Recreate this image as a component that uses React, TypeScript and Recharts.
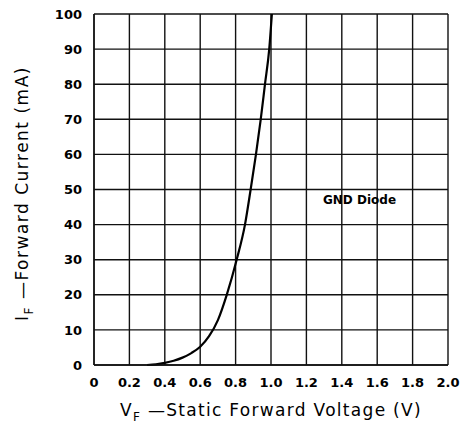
import React from "react"
import {
  LineChart,
  Line,
  XAxis,
  YAxis,
  CartesianGrid,
  ReferenceDot
} from "recharts"

// forward voltage (V) vs forward current (mA)
const voltage = [0.3, 0.35, 0.4, 0.45, 0.5, 0.55, 0.6, 0.65, 0.7, 0.75, 0.806, 0.853, 0.885, 0.915, 0.942, 0.966, 0.99, 1.005]
const current = [0, 0.2, 0.6, 1.2, 2.1, 3.4, 5.2, 8.2, 12.8, 20, 30, 40, 50, 60, 70, 80, 90, 100]

const xTicks = [0, 0.2, 0.4, 0.6, 0.8, 1.0, 1.2, 1.4, 1.6, 1.8, 2.0]
const yTicks = [0, 10, 20, 30, 40, 50, 60, 70, 80, 90, 100]

const noteText = "GND Diode"
const notePos = { v: 1.5, i: 47 }

const data = voltage.map((v, k) => ({ v, i: current[k] }))

const FONT = "'DejaVu Sans', sans-serif"

function XTitle(props: any) {
  const vb = props.viewBox || { x: 94, y: 365, width: 354, height: 60 }
  const cx = vb.x + vb.width / 2
  return (
    <text x={cx} y={416} textAnchor="middle" fontFamily={FONT} fontSize={17} letterSpacing={1.3} fill="#000">
      <tspan>V</tspan>
      <tspan fontSize={12} dy={5}>F</tspan>
      <tspan dy={-5}> —Static Forward Voltage (V)</tspan>
    </text>
  )
}

function YTitle(props: any) {
  const vb = props.viewBox || { x: 0, y: 14, width: 94, height: 351 }
  const cy = vb.y + vb.height / 2 + 4
  const cx = 28
  return (
    <text
      x={cx}
      y={cy}
      textAnchor="middle"
      fontFamily={FONT}
      fontSize={17}
      letterSpacing={1.5}
      fill="#000"
      transform={`rotate(-90, ${cx}, ${cy})`}
    >
      <tspan>I</tspan>
      <tspan fontSize={12} dy={5}>F</tspan>
      <tspan dy={-5}> —Forward Current (mA)</tspan>
    </text>
  )
}

export default function App() {
  return (
    <div style={{ position: "absolute", left: 0, top: 0, background: "#fff" }}>
      <LineChart
        width={464}
        height={425}
        data={data}
        margin={{ top: 14, right: 16, bottom: 0, left: 0 }}
      >
        <CartesianGrid stroke="#111" strokeWidth={1.4} />
        <XAxis
          type="number"
          dataKey="v"
          domain={[0, 2]}
          ticks={xTicks}
          interval={0}
          height={60}
          tickLine={false}
          tickSize={0}
          tickMargin={13}
          axisLine={{ stroke: "#111", strokeWidth: 1.4 }}
          tickFormatter={(t: number) => (t === 0 ? "0" : t.toFixed(1))}
          tick={{ fill: "#000", fontSize: 13, fontFamily: FONT, fontWeight: "bold" }}
          label={{ content: XTitle }}
        />
        <YAxis
          type="number"
          domain={[0, 100]}
          ticks={yTicks}
          interval={0}
          width={94}
          tickLine={false}
          tickSize={0}
          tickMargin={12}
          axisLine={{ stroke: "#111", strokeWidth: 1.4 }}
          tick={{ fill: "#000", fontSize: 13, fontFamily: FONT, fontWeight: "bold" }}
          label={{ content: YTitle }}
        />
        <ReferenceDot
          x={notePos.v}
          y={notePos.i}
          r={0}
          fill="none"
          stroke="none"
          label={{
            value: noteText,
            position: "center",
            fill: "#000",
            fontSize: 12,
            fontFamily: FONT,
            fontWeight: "bold"
          }}
        />
        <Line
          type="monotone"
          dataKey="i"
          stroke="#000"
          strokeWidth={2.2}
          dot={false}
          isAnimationActive={false}
        />
      </LineChart>
    </div>
  )
}
